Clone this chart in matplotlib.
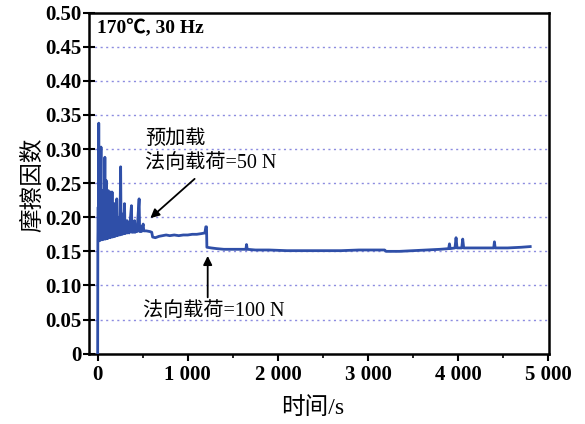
import matplotlib
matplotlib.use('Agg')
import matplotlib.pyplot as plt

# Data
time_s = [0, 2, 6, 9, 12, 16, 22, 27, 37, 42, 50, 55, 66, 72, 80, 86, 94, 100,
          108, 113, 118, 124, 132, 138, 146, 152, 160, 166, 174, 180, 188, 194,
          202, 207, 212, 218, 226, 232, 240, 246, 255, 260, 268, 274, 282, 288,
          298, 304, 312, 318, 326, 332, 342, 350, 375, 381, 392, 398, 410, 416,
          430, 437, 460, 466, 480, 486, 505, 512, 540, 580, 600, 610, 640, 680,
          720, 760, 800, 850, 900, 950, 1000, 1050, 1100, 1150, 1190, 1200, 1208,
          1212, 1260, 1320, 1400, 1500, 1600, 1645, 1652, 1660, 1750, 1900, 2100,
          2300, 2500, 2700, 2900, 3100, 3185, 3200, 3350, 3500, 3650, 3800, 3895,
          3904, 3912, 3965, 3977, 3988, 4040, 4051, 4062, 4200, 4395, 4403, 4411,
          4550, 4700, 4800]
friction = [0.000, 0.166, 0.215, 0.165, 0.338, 0.166, 0.250, 0.166, 0.303, 0.167,
            0.235, 0.167, 0.240, 0.168, 0.288, 0.168, 0.254, 0.169,
            0.215, 0.169, 0.239, 0.170, 0.210, 0.170, 0.237, 0.171, 0.237, 0.171,
            0.205, 0.172, 0.220, 0.172,
            0.200, 0.173, 0.227, 0.173, 0.200, 0.174, 0.195, 0.174, 0.274, 0.175,
            0.205, 0.175, 0.195, 0.176,
            0.220, 0.176, 0.190, 0.177, 0.195, 0.177, 0.185, 0.177, 0.217, 0.178,
            0.190, 0.178, 0.195, 0.178,
            0.188, 0.179, 0.227, 0.179, 0.186, 0.179, 0.190, 0.180, 0.180, 0.179,
            0.178, 0.171, 0.170, 0.172,
            0.173, 0.174, 0.173, 0.174, 0.173, 0.174, 0.174, 0.175, 0.175, 0.176,
            0.177, 0.186, 0.186,
            0.156, 0.155, 0.154, 0.153, 0.153, 0.153, 0.153, 0.160, 0.153, 0.152,
            0.152, 0.151,
            0.151, 0.151, 0.151, 0.152, 0.152, 0.152, 0.150, 0.150, 0.151, 0.152,
            0.153, 0.154,
            0.161, 0.154, 0.155, 0.170, 0.155, 0.155, 0.168, 0.155, 0.155, 0.155,
            0.164, 0.155,
            0.155, 0.156, 0.157]

x_ticks = [0, 1000, 2000, 3000, 4000, 5000]
x_labels = ['0', '1 000', '2 000', '3 000', '4 000', '5 000']
y_ticks = [0, 0.05, 0.10, 0.15, 0.20, 0.25, 0.30, 0.35, 0.40, 0.45, 0.50]
y_labels = ['0', '0.05', '0.10', '0.15', '0.20', '0.25', '0.30', '0.35', '0.40', '0.45', '0.50']

fonts = ['Liberation Serif', 'Noto Sans CJK SC']
plt.rcParams['font.family'] = fonts

fig = plt.figure(figsize=(5.85, 4.24), dpi=100)
ax = fig.add_axes([0.152, 0.166, 0.787, 0.804])

ax.plot(time_s, friction, color='#2f4fa8', lw=2.0, zorder=3)

ax.set_xlim(-97, 5012)
ax.set_ylim(0, 0.5)
ax.set_xticks(x_ticks)
ax.set_xticklabels(x_labels, fontweight='bold')
ax.set_xticks([500, 1500, 2500, 3500, 4500], minor=True)
ax.set_yticks(y_ticks)
ax.set_yticklabels(y_labels, fontweight='bold')
ax.tick_params(axis='y', direction='inout', length=8, width=1.5, labelsize=15, pad=1)
ax.tick_params(axis='x', which='major', direction='out', length=5, width=1.5, labelsize=15, pad=3)
ax.tick_params(axis='x', which='minor', direction='out', length=3, width=1.2)
for s in ax.spines.values():
    s.set_linewidth(1.8)

# dotted horizontal grid
for yv in y_ticks[1:-1]:
    ax.axhline(yv, color='#8c8ce0', lw=1.0, ls=(0, (1.5, 2.5)), zorder=1)

ax.set_xlabel('时间/s', fontsize=17)
ax.set_ylabel('摩擦因数', fontsize=17)
ax.xaxis.set_label_coords(0.487, -0.128)
ax.yaxis.set_label_coords(-0.098, 0.494)

ax.text(-8, 0.477, '170℃, 30 Hz', fontsize=14, fontweight='bold', ha='left', va='center')

ax.text(525, 0.3147, '预加载', fontsize=14.5, ha='left', va='center')
ax.text(525, 0.2795, '法向载荷=50 N', fontsize=14.5, ha='left', va='center')
ax.annotate('', xy=(562, 0.196), xytext=(1099, 0.259),
            arrowprops=dict(arrowstyle='-|>', color='black', lw=1.3, mutation_scale=13))

ax.annotate('', xy=(1221, 0.1474), xytext=(1221, 0.0785),
            arrowprops=dict(arrowstyle='-|>', color='black', lw=1.3, mutation_scale=13))
ax.text(503, 0.0613, '法向载荷=100 N', fontsize=14.5, ha='left', va='center')

fig.savefig('out.png', dpi=100)
